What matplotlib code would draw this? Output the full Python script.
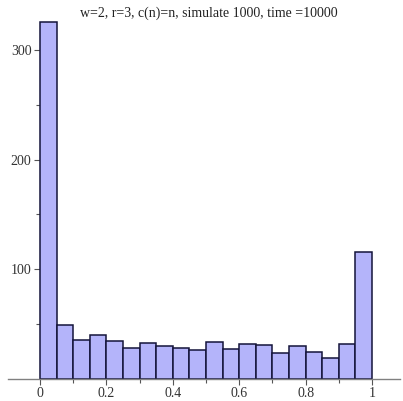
#!/usr/bin/env python

import matplotlib
matplotlib.use('Agg')
import matplotlib.pyplot as plt
import numpy as np

# histogram of 1000 simulations, 20 bins on [0, 1]
bin_edges = np.linspace(0, 1, 21)
counts = [325, 49, 36, 40, 35, 28, 33, 30, 28, 26,
          34, 27, 32, 31, 24, 30, 25, 19, 32, 116]
title = 'w=2, r=3, c(n)=n, simulate 1000, time =10000'

plt.rcParams['font.family'] = ['Liberation Serif', 'DejaVu Serif']

fig = plt.figure(figsize=(4.03, 4.01), dpi=100)
ax = fig.add_axes([8 / 403, 22 / 401, 392 / 403, 362 / 401])

ax.bar(bin_edges[:-1], counts, width=np.diff(bin_edges), align='edge',
       color='#b4b4fa', edgecolor='#14143a', linewidth=1.1, zorder=2)

ax.set_xlim(-0.096, 1.084)
ax.set_ylim(0, 330)

for side in ('top', 'right'):
    ax.spines[side].set_visible(False)
ax.spines['left'].set_position(('data', 0))
ax.spines['left'].set_visible(False)
ax.spines['bottom'].set_color('#808080')
ax.spines['bottom'].set_linewidth(1.0)

ax.set_xticks([0, 0.2, 0.4, 0.6, 0.8, 1])
ax.set_xticklabels(['0', '0.2', '0.4', '0.6', '0.8', '1'])
ax.set_xticks(np.arange(0.1, 1.0, 0.2), minor=True)
ax.set_yticks([100, 200, 300])
ax.set_yticks([50, 150, 250], minor=True)

ax.tick_params(axis='both', which='both', colors='#555555', labelcolor='#333333',
               labelsize=10, direction='out', width=0.8)
ax.tick_params(axis='both', which='major', length=4)
ax.tick_params(axis='both', which='minor', length=3)
ax.tick_params(axis='x', pad=1.5)
ax.tick_params(axis='y', pad=2)

fig.text(0.517, 0.966, title, ha='center', va='center', fontsize=10, color='#222222')

fig.savefig('out.png', dpi=100)
